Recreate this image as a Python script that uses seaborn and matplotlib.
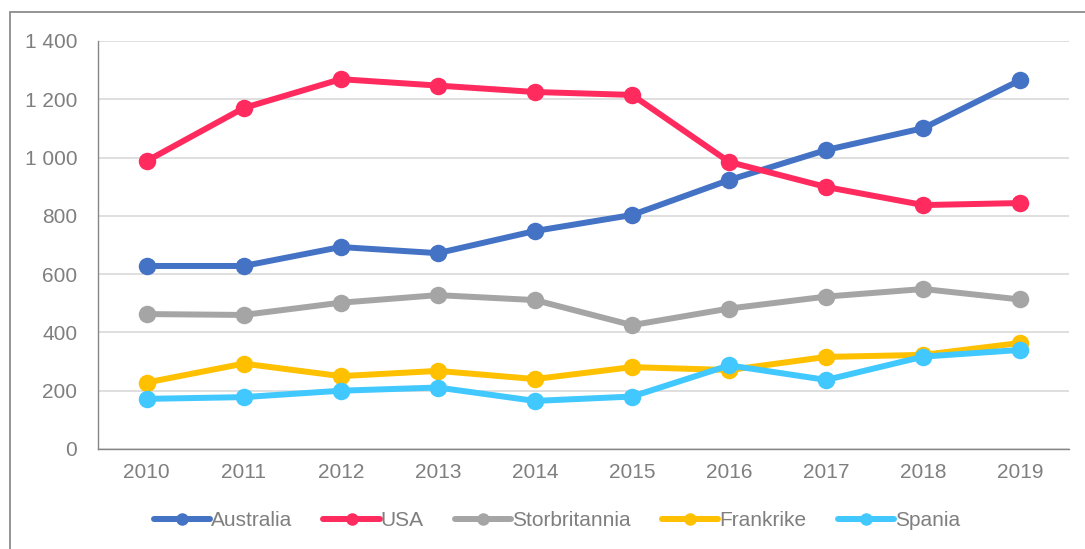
import pandas as pd
import numpy as np
import matplotlib
matplotlib.use('Agg')
import matplotlib.pyplot as plt
import matplotlib.ticker as mticker
from matplotlib.patches import Rectangle
import seaborn as sns

years = ['2010', '2011', '2012', '2013', '2014', '2015', '2016', '2017', '2018', '2019']
countries = ['Australia', 'USA', 'Storbritannia', 'Frankrike', 'Spania']
australia = [628, 628, 693, 672, 748, 803, 923, 1026, 1101, 1266]
usa = [988, 1170, 1269, 1247, 1225, 1215, 985, 899, 837, 844]
storbritannia = [463, 460, 502, 528, 511, 425, 482, 523, 549, 513]
frankrike = [228, 293, 250, 268, 240, 281, 271, 316, 323, 364]
spania = [172, 178, 200, 211, 165, 180, 287, 237, 317, 340]
colors = ['#4472C4', '#FF2B5E', '#A5A5A5', '#FFC000', '#40C8FF']

# long table for seaborn
values = [australia, usa, storbritannia, frankrike, spania]
df = pd.DataFrame({
    'year': years * len(countries),
    'land': np.repeat(countries, len(years)),
    'value': np.concatenate(values),
})

sns.set_style('white')
plt.rcParams['font.family'] = ['Liberation Sans', 'DejaVu Sans']
text_col = '#7F7F7F'

fig = plt.figure(figsize=(10.85, 5.49), dpi=100)
ax = fig.add_axes([98 / 1085, 1 - 449 / 549, 971 / 1085, 408 / 549])

sns.lineplot(data=df, x='year', y='value', hue='land', hue_order=countries,
             palette=colors, marker='o', markersize=12.6, markeredgewidth=0,
             linewidth=4.3, ax=ax, sort=False, zorder=3)

ax.set_xlim(-0.5, len(years) - 0.5)
ax.set_ylim(0, 1400)
ax.yaxis.set_major_locator(mticker.MultipleLocator(200))
ax.yaxis.set_major_formatter(mticker.FuncFormatter(lambda v, p: f'{int(v):,}'.replace(',', ' ')))
ax.grid(axis='y', color='#D9D9D9', linewidth=1.2, zorder=0)
ax.grid(axis='x', visible=False)
ax.set_xlabel('')
ax.set_ylabel('')

# tick marks between categories on x
ax.set_xticks(np.arange(-0.5, len(years)), minor=True)
ax.tick_params(axis='x', which='major', length=0, pad=10, labelsize=15, labelcolor=text_col)
ax.tick_params(axis='x', which='minor', length=6, width=1, color='#868686', direction='out')
ax.tick_params(axis='y', which='major', length=6, width=1, color='#868686', direction='out',
               pad=9, labelsize=15, labelcolor=text_col)

for s in ['top', 'right']:
    ax.spines[s].set_visible(False)
for s in ['left', 'bottom']:
    ax.spines[s].set_color('#868686')
    ax.spines[s].set_linewidth(1.0)

handles, labels = ax.get_legend_handles_labels()
leg = ax.legend(handles, labels, loc='center', bbox_to_anchor=(557 / 1085, 1 - 521 / 549),
                bbox_transform=fig.transFigure, ncol=5, frameon=False, fontsize=15,
                handlelength=2.7, handletextpad=0.05, columnspacing=1.5)
for t in leg.get_texts():
    t.set_color(text_col)
for h in leg.legend_handles:
    h.set_linewidth(4.3)
    h.set_markersize(9)

# chart border
fig.patches.append(Rectangle((10 / 1085, -0.1), 1.2, 1 - 12 / 549 + 0.1, transform=fig.transFigure,
                             fill=False, edgecolor='#8C8C8C', linewidth=1.3, figure=fig))

fig.savefig('out.png', dpi=100)
